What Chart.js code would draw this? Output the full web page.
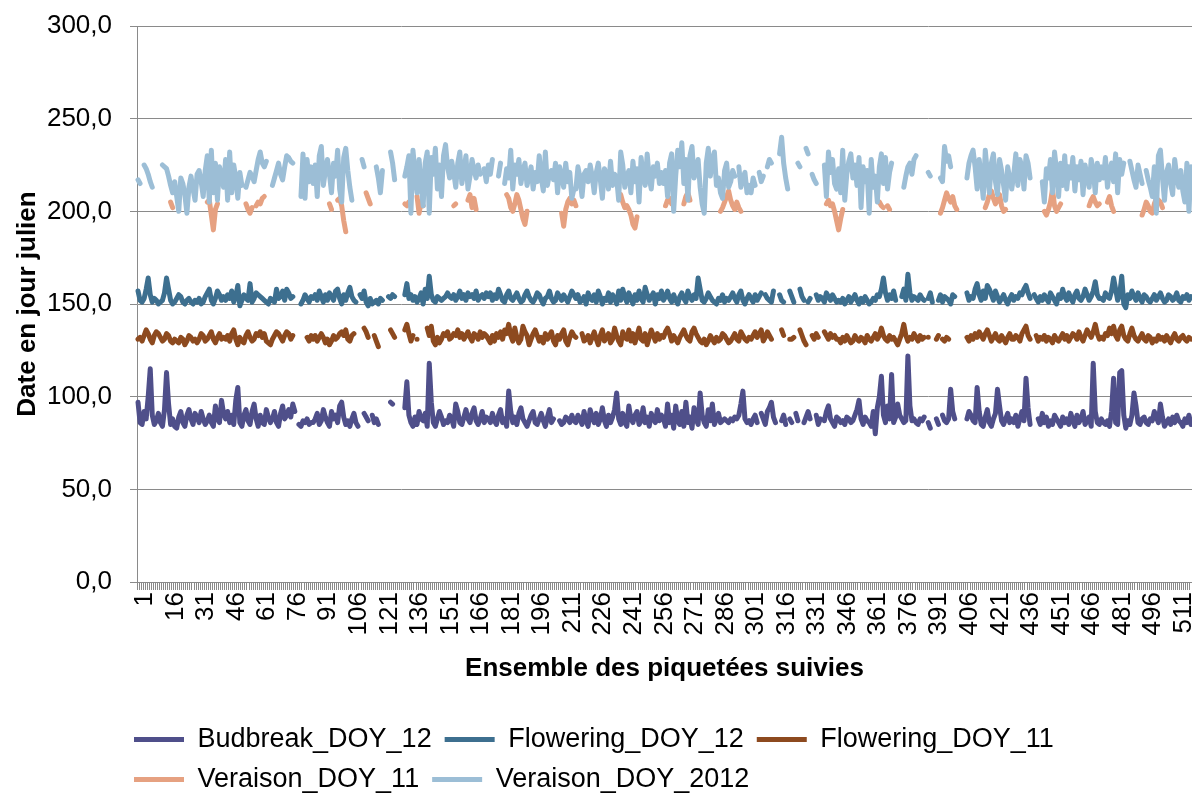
<!DOCTYPE html>
<html>
<head>
<meta charset="utf-8">
<script src="https://cdn.jsdelivr.net/npm/chart.js@4"></script>
<style>
  html, body { margin: 0; padding: 0; background: #fff; }
  #wrap { width: 1192px; height: 796px; position: relative; }
</style>
</head>
<body>
<div id="wrap"><canvas id="myChart"></canvas></div>
<script>
// _ = gap in the series (piquetée not observed)
const _ = null;

const budbreak12 = [
  97,86,85,92,88,100,115,90,85,87,91,86,84,93,113,96,85,88,84,83,89,92,86,84,90,93,88,85,91,89,86,92,88,85,87,90,86,84,95,88,86,98,91,
  88,92,86,90,85,98,105,86,84,90,93,87,85,92,96,88,84,90,86,85,93,89,86,88,92,86,84,91,95,88,90,93,89,96,92,_,85,84,87,86,88,85,86,
  86,88,91,85,87,93,89,86,84,92,88,90,86,95,97,89,85,87,84,88,91,86,84,_,_,91,89,87,_,90,86,88,85,_,_,_,_,_,97,96,_,_,_,
  _,_,94,108,90,86,84,89,85,92,88,87,91,84,118,97,86,84,88,92,89,85,87,86,90,88,84,96,92,86,85,89,93,88,86,91,94,87,85,88,92,86,89,
  88,86,91,87,85,90,93,86,88,84,103,92,86,89,85,91,94,88,86,84,87,90,92,86,85,88,91,87,84,89,93,86,88,_,_,87,85,86,89,88,86,90,87,
  86,90,88,85,92,87,84,93,89,86,91,85,88,94,87,84,90,86,89,93,102,88,85,91,86,84,95,88,86,90,92,85,87,94,86,89,84,91,88,86,93,87,90,
  88,84,96,86,90,83,95,87,85,92,84,97,86,89,83,94,88,85,102,90,86,84,93,87,96,85,88,91,86,87,88,87,86,88,87,89,88,90,96,103,88,86,87,
  85,88,90,86,_,91,88,85,92,94,97,89,86,_,_,87,90,85,_,88,86,_,91,87,_,_,86,89,92,88,_,_,90,85,88,_,87,92,95,88,86,84,89,
  88,86,87,85,89,88,86,87,90,93,98,88,85,89,87,86,84,92,80,94,100,111,90,86,95,88,112,86,89,96,90,88,86,87,122,95,87,88,86,85,88,87,89,
  _,86,83,_,_,88,85,_,90,87,86,88,104,92,88,_,_,_,_,_,88,92,90,87,86,105,92,85,84,89,93,86,84,88,91,104,95,87,85,88,91,86,88,
  86,90,84,88,92,87,110,94,85,_,_,_,88,85,91,86,89,84,87,85,90,88,86,84,89,86,88,85,91,87,84,90,86,88,92,85,87,89,84,118,92,86,85,
  88,86,85,87,84,92,110,86,85,113,114,90,83,87,85,90,102,95,86,85,88,89,86,85,88,87,92,89,86,96,89,84,86,88,85,89,86,90,87,86,84,88,86,90,85
];

const flowering12 = [
  157,152,151,153,158,164,155,151,153,152,150,151,152,156,164,158,152,150,151,153,155,154,151,150,152,153,151,150,152,151,153,150,151,154,156,158,152,150,153,157,155,152,154,
  152,155,153,157,151,154,160,149,152,155,153,152,161,151,153,156,155,154,153,152,151,150,153,152,151,158,153,154,157,152,158,156,153,154,_,_,_,150,152,155,153,151,154,
  153,155,152,157,154,151,155,152,156,154,152,157,158,153,150,155,152,156,159,154,152,151,_,155,153,157,151,149,153,150,151,152,150,153,152,_,_,154,153,155,154,_,_,
  _,_,155,161,153,155,152,154,151,153,156,150,158,153,165,155,152,151,154,153,152,153,154,156,154,153,155,152,154,157,153,155,152,156,154,155,153,157,152,154,155,153,156,
  154,156,152,155,153,158,155,152,151,155,157,153,152,154,156,153,151,152,155,157,154,152,151,153,156,155,152,150,153,154,157,153,151,152,156,154,152,155,153,151,154,157,155,
  153,155,151,152,154,150,156,153,152,155,151,157,154,150,153,152,156,151,155,153,150,157,152,158,154,151,156,153,150,155,152,157,153,151,159,155,152,154,156,150,155,153,157,
  152,154,157,153,151,155,152,150,154,156,153,151,157,154,152,155,153,164,158,152,151,153,156,154,152,151,150,153,152,155,151,153,152,154,156,153,151,155,157,152,150,153,155,
  153,151,155,152,154,156,_,155,153,152,151,157,_,_,155,152,151,_,_,157,154,151,_,_,158,154,152,_,151,153,_,_,155,152,154,153,151,156,154,152,155,153,151,
  152,151,153,150,152,154,151,153,155,152,150,153,151,154,152,150,151,153,152,155,154,158,164,156,152,155,153,157,152,_,_,154,158,152,166,156,152,154,153,152,155,153,152,
  _,153,156,151,_,_,152,155,151,154,153,152,150,155,154,_,_,_,_,_,156,152,154,153,158,161,155,152,157,153,160,158,155,152,157,154,151,153,155,152,150,153,155,
  152,154,153,156,155,158,160,156,153,_,155,153,151,154,152,155,153,151,156,154,152,150,155,153,158,154,152,156,153,151,155,157,153,152,154,158,155,152,154,157,162,155,153,
  153,152,156,154,153,157,164,158,152,155,165,150,148,155,153,157,154,152,156,153,151,155,154,152,151,153,155,152,154,156,153,151,152,155,154,152,153,156,152,151,154,153,155,152,154
];

const flowering11 = [
  131,132,130,133,136,134,131,129,133,135,134,132,130,131,134,133,130,129,131,130,129,132,131,128,130,133,132,130,131,129,131,134,133,130,131,133,135,131,129,132,134,131,132,
  131,133,130,134,136,131,128,132,130,129,133,135,132,130,131,134,133,135,132,134,130,129,128,131,133,135,134,132,130,133,135,134,131,133,_,_,_,_,_,_,132,130,133,
  131,133,130,132,134,132,129,131,128,130,133,131,132,134,135,133,136,131,130,133,134,_,_,_,_,137,135,132,_,_,133,130,127,_,_,_,_,_,136,134,132,_,_,
  _,_,136,139,134,130,133,_,131,_,_,_,_,137,133,138,130,128,132,129,131,134,133,135,131,132,134,133,136,132,134,131,133,135,132,130,134,133,131,135,132,134,133,
  131,129,133,130,134,132,135,131,136,134,139,133,130,137,132,129,131,138,135,133,128,131,134,136,133,130,132,129,134,131,133,135,130,128,133,131,134,136,130,128,132,135,133,
  132,_,_,134,130,131,133,129,132,135,131,128,133,136,130,132,134,129,131,137,133,130,128,135,132,131,136,130,134,129,133,137,131,130,134,128,132,136,133,130,134,131,133,
  132,135,137,134,130,133,131,129,132,134,136,133,131,130,135,137,134,132,130,129,131,128,130,133,131,129,132,130,131,134,133,131,129,130,132,134,131,130,135,133,131,130,132,
  131,133,135,132,134,136,130,132,135,133,131,_,_,_,_,136,133,_,_,131,131,132,_,_,136,133,130,128,_,_,133,131,134,132,_,_,135,133,131,134,132,133,131,
  131,129,132,130,133,131,129,130,133,131,130,132,131,129,133,131,130,132,134,131,133,137,133,131,130,133,131,132,130,128,131,134,139,133,130,132,131,134,132,130,133,131,132,
  _,132,_,_,_,131,133,_,131,130,132,131,_,_,_,_,_,_,_,_,132,130,133,131,134,132,135,133,131,134,136,133,130,132,134,131,130,133,131,129,132,134,131,
  131,133,132,130,134,136,138,133,131,_,_,133,130,132,131,133,130,132,131,129,133,131,130,132,134,131,133,130,132,134,133,131,135,132,130,133,136,134,132,135,139,134,131,
  132,131,134,133,137,134,138,133,131,136,138,133,131,130,134,137,133,131,130,132,134,131,130,133,132,129,131,130,133,131,132,130,133,131,129,132,134,131,130,132,133,131,130,132,131
];

const veraison11 = [
  _,_,_,_,_,_,_,_,_,_,_,_,_,_,_,_,205,202,_,_,_,_,_,_,_,_,_,_,_,_,_,_,_,_,205,206,198,190,201,204,_,_,_,
  _,_,_,_,_,_,_,_,_,_,204,201,199,202,_,203,205,204,207,208,_,_,_,_,_,_,_,_,_,_,_,_,_,_,_,_,_,_,_,_,_,_,_,
  _,_,_,_,_,_,_,_,204,201,_,_,206,207,203,195,189,_,_,_,_,_,_,_,_,_,210,207,204,_,_,_,_,_,_,_,_,_,_,_,_,_,_,
  _,_,204,203,205,_,_,_,208,199,205,203,_,_,_,_,_,_,_,_,_,_,_,_,_,_,203,204,_,_,_,_,_,206,209,202,207,201,_,_,_,_,_,
  _,_,_,_,_,_,_,_,_,209,207,202,200,204,209,206,201,196,193,200,_,_,_,_,_,_,_,_,_,_,_,_,_,_,_,_,199,192,201,205,207,204,206,
  203,_,_,_,_,_,_,_,_,_,_,_,_,_,_,_,_,_,_,_,_,_,209,205,202,203,201,198,193,191,197,_,_,_,_,_,_,_,_,_,_,_,_,
  _,203,206,207,204,_,_,_,_,_,204,208,210,206,_,_,_,_,_,_,_,_,_,_,_,_,_,_,200,202,205,208,211,206,203,201,205,202,200,_,_,_,_,
  _,_,_,_,_,_,_,_,_,_,_,_,_,_,_,_,_,_,_,_,_,_,_,_,_,_,_,_,_,_,_,_,_,_,_,_,_,204,206,203,204,200,195,
  190,196,201,_,_,_,_,_,_,_,_,_,_,_,_,_,_,_,_,_,205,203,202,_,203,201,_,_,_,_,_,_,_,_,_,_,_,_,_,_,_,_,_,
  _,_,_,_,_,_,_,199,202,206,210,207,205,208,203,201,_,_,_,_,_,_,_,_,_,_,_,_,_,202,205,209,211,207,204,206,209,203,200,201,_,_,_,
  _,_,_,_,_,_,_,_,_,_,_,_,_,_,_,200,198,201,205,212,203,200,202,204,_,_,_,_,_,_,_,_,_,_,_,_,_,203,206,208,205,203,204,
  _,_,_,205,208,203,200,_,_,_,_,_,_,_,_,_,_,_,_,_,198,201,205,203,200,199,204,207,206,205,202,_,_,_,_,_,_,_,_,_,_,_,_,_,_
];

const veraison2012 = [
  217,215,_,225,223,220,216,213,_,_,_,_,225,224,223,219,214,210,216,208,200,218,215,209,199,213,219,212,206,220,222,216,208,222,230,205,233,210,226,206,224,219,213,
  228,206,232,210,225,218,207,221,214,_,213,217,221,219,216,222,228,232,226,224,227,_,_,214,218,222,226,220,217,224,230,229,227,226,_,_,_,208,231,207,228,216,224,
  215,225,208,230,235,214,222,228,220,210,226,219,233,212,205,229,234,222,213,206,_,_,_,_,228,224,_,_,_,_,_,224,218,210,222,_,_,_,232,226,217,_,_,
  _,_,219,224,230,199,233,221,210,228,214,203,226,232,199,229,220,234,212,225,208,230,236,224,218,227,221,213,226,232,215,222,230,212,219,228,222,218,225,220,_,223,216,
  225,220,228,_,_,219,226,_,215,223,218,233,212,225,220,228,215,222,226,214,219,224,212,221,216,230,218,211,232,214,220,222,217,226,210,224,219,213,226,216,221,207,212,
  212,224,218,208,220,222,216,225,219,210,221,226,217,207,223,220,212,227,214,220,218,206,232,225,213,219,222,210,227,216,223,205,229,220,214,231,218,212,224,219,226,215,221,
  215,222,208,226,231,200,219,233,224,237,215,228,206,230,235,218,222,228,213,204,199,226,234,219,228,232,214,218,210,207,222,226,213,216,222,219,_,224,213,218,221,210,214,
  210,218,214,_,221,216,219,_,224,228,226,_,_,_,231,240,226,218,212,_,_,_,_,226,224,_,_,234,231,_,220,217,215,_,_,_,225,208,232,221,228,215,212,
  223,210,233,206,220,227,231,218,225,214,229,202,224,216,222,199,228,213,219,205,224,231,215,229,212,221,226,_,_,_,_,_,213,219,224,226,220,228,230,_,_,_,_,
  _,221,219,_,_,_,_,218,216,235,227,230,224,_,_,_,_,_,_,_,218,226,230,233,224,212,228,219,207,233,221,210,226,231,216,209,228,222,214,206,224,218,212,
  220,231,214,228,224,212,230,226,218,_,_,_,_,_,216,205,223,218,228,210,232,222,208,226,214,230,212,224,218,229,211,224,217,227,209,225,219,213,228,222,210,226,217,
  224,218,229,213,222,226,216,231,210,228,220,226,_,_,227,222,217,213,225,220,215,_,222,217,213,208,224,199,230,233,218,206,221,225,215,209,228,219,213,222,211,205,226,200,224
];

// piquetées numbered 1..N, one label shown every 15
const piquets = veraison2012.map((v, i) => String(i + 1));
const xLabelStep = 15;

const yMin = 0;
const yMax = 300;
const yStep = 50;

const seriesNames = ['Budbreak_DOY_12', 'Flowering_DOY_12', 'Flowering_DOY_11', 'Veraison_DOY_11', 'Veraison_DOY_2012'];
const seriesColors = ['#4F4F8A', '#3D6F8F', '#8D4A1F', '#E6A181', '#9CBED6'];
const seriesData = [budbreak12, flowering12, flowering11, veraison11, veraison2012];

const fontFamily = '"Liberation Sans", Arial, sans-serif';
Chart.defaults.font.family = fontFamily;
Chart.defaults.color = '#000';

// push the bottom legend to line up with the plot's left edge
const legendNudge = {
  id: 'legendNudge',
  afterLayout(chart) {
    chart.legend.left -= 16;
    chart.legend.top += 2;
  }
};

const ctx = document.getElementById('myChart').getContext('2d');
new Chart(ctx, {
  type: 'line',
  data: {
    labels: piquets,
    datasets: seriesNames.map((name, i) => ({
      label: name,
      data: seriesData[i],
      borderColor: seriesColors[i],
      backgroundColor: seriesColors[i],
      borderWidth: 5,
      pointRadius: 0,
      tension: 0,
      spanGaps: false,
      borderCapStyle: 'round',
      borderJoinStyle: 'round',
      order: seriesNames.length - i
    }))
  },
  plugins: [legendNudge],
  options: {
    responsive: true,
    maintainAspectRatio: false,
    animation: false,
    devicePixelRatio: 1,
    layout: { padding: { top: 26, right: 0, left: 0, bottom: -5 } },
    plugins: {
      tooltip: { enabled: false },
      legend: {
        position: 'bottom',
        align: 'start',
        fullSize: false,
        labels: {
          usePointStyle: true,
          pointStyle: 'line',
          pointStyleWidth: 50,
          padding: 13,
          color: '#000',
          font: { size: 27 },
          sort: (a, b) => a.datasetIndex - b.datasetIndex
        }
      }
    },
    scales: {
      x: {
        offset: true,
        grid: { offset: true, drawOnChartArea: false, tickLength: 8, color: '#8a8a8a' },
        border: { color: '#8a8a8a', width: 1 },
        ticks: {
          autoSkip: false,
          minRotation: 90,
          maxRotation: 90,
          padding: 2,
          labelOffset: 7,
          color: '#000',
          font: { size: 26 },
          callback: (v, i) => (i % xLabelStep === 0 ? piquets[i] : '')
        },
        title: {
          display: true,
          text: 'Ensemble des piquetées suivies',
          color: '#000',
          font: { size: 26, weight: 'bold' },
          padding: { top: 0, bottom: 27 }
        },
        afterFit: (scale) => {
          scale.height = 129;
          scale.paddingLeft = 0;
          scale.paddingRight = 0;
        }
      },
      y: {
        min: yMin,
        max: yMax,
        grid: { color: '#8a8a8a', lineWidth: 1, tickLength: 7 },
        border: { color: '#8a8a8a', width: 1 },
        ticks: {
          stepSize: yStep,
          padding: 18,
          color: '#000',
          font: { size: 26 },
          callback: (v) => v.toFixed(1).replace('.', ',')
        },
        title: {
          display: true,
          text: 'Date en jour julien',
          color: '#000',
          font: { size: 26, weight: 'bold' },
          padding: { top: 12, bottom: 0 }
        },
        afterFit: (scale) => {
          scale.width = 137;
          scale.paddingTop = 0;
          scale.paddingBottom = 0;
        }
      }
    }
  }
});
</script>
</body>
</html>
